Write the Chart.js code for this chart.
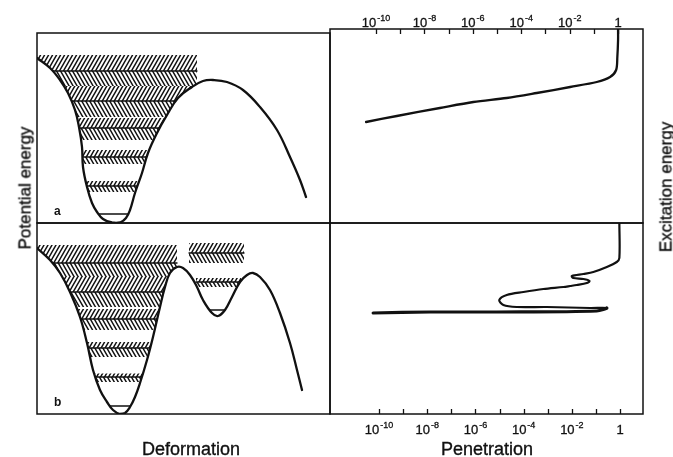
<!DOCTYPE html>
<html>
<head>
<meta charset="utf-8">
<script src="https://cdn.jsdelivr.net/npm/chart.js@4.4.1/dist/chart.umd.min.js"></script>
<style>
  html, body { margin: 0; padding: 0; background: #fff; }
  #wrap { position: relative; width: 673px; height: 457px; overflow: hidden;
          font-family: "Liberation Sans", Arial, sans-serif; color: #111; }
  #wrap canvas { position: absolute; left: 0; top: 0; }
  .lbl { position: absolute; font-size: 18px; line-height: 18px; white-space: nowrap;
         -webkit-text-stroke: 0.35px #111; }
  .hz { transform: translateX(-50%); }
  .vt { font-size: 17px; line-height: 17px; transform: translate(-50%, -50%) rotate(-90deg); }
</style>
</head>
<body>
<div id="wrap">
  <canvas id="pot-a" width="673" height="457"></canvas>
  <canvas id="pot-b" width="673" height="457"></canvas>
  <canvas id="pen-a" width="673" height="457"></canvas>
  <canvas id="pen-b" width="673" height="457"></canvas>
  <div class="lbl hz" style="left:191px; top:440px;">Deformation</div>
  <div class="lbl hz" style="left:487px; top:440px;">Penetration</div>
  <div class="lbl vt" style="left:25px; top:188px;">Potential energy</div>
  <div class="lbl vt" style="left:666px; top:187px;">Excitation energy</div>
</div>
<script>
// ── Fission barrier sketch: potential wells (left) and barrier penetration (right)
// Energies are in arbitrary units. Row a = single hump,
// row b = double hump with a second (shape-isomer) well.

const INK = '#111';
const FONT = '"Liberation Sans", Arial, sans-serif';

// penetration axis (log10 of penetration)
const TICK_EXPONENTS = [-10, -9, -8, -7, -6, -5, -4, -3, -2, -1, 0];
const LABEL_EXPONENTS = [-10, -8, -6, -4, -2, 0];

// panel a: potential energy vs deformation
const DEFORM_A = [0, 13, 23, 31, 38, 42, 45, 46, 50, 55, 60, 66, 75, 83, 89, 93, 98, 105,
  111, 120, 130, 141, 155, 166, 176, 190, 206, 223, 240, 253, 263, 269];
const POT_A = [165, 155, 143, 130, 113, 96, 76, 56, 36, 20, 11, 4, 0.5, 0.5, 5, 13, 30, 50,
  70, 90, 108, 125, 136, 142, 143, 141, 133, 116, 93, 66, 43, 26];
const LEVELS_A = [152, 122, 95, 66, 37, 9];
const BAND_TOP_A = [168, 137, 105, 73, 42, null];
const BAND_BOTTOM_A = [137, 106, 83, 59, 31, null];
const HATCH_RIGHT_A = 160;

// panel b: double-humped barrier
const DEFORM_B = [0, 13, 23, 33, 43, 50, 56, 63, 70, 76, 83, 88, 93, 98, 103, 110, 116, 123,
  128, 133, 140, 146, 153, 160, 166, 175, 181, 188, 195, 203, 210, 216, 223, 233, 243, 253, 260, 265];
const POT_B = [166, 154, 141, 122, 97, 71, 44, 24, 12, 4, 0, 1, 7, 17, 31, 54, 77, 107,
  127, 141, 147, 146, 139, 127, 114, 101, 98, 104, 117, 132, 139, 141, 137, 124, 101, 71, 44, 24];
const LEVELS_B = [151, 122, 95, 66, 37, 8];
const BAND_TOP_B = [169, 137, 105, 72, 40.5, null];
const BAND_BOTTOM_B = [137, 107, 84, 57, 32, null];
const HATCH_RIGHT_B = 140;
// second well states: [level, band top, band bottom, from, to]
const OUTER_LEVELS_B = [
  [161, 171, 151, 152, 207],
  [132, 136, 127, 159, 204],
  [104, null, null, 171, 188],
];

// penetration vs excitation energy
const PEN_EXP_A = [-10.41, -9.14, -7.36, -5.98, -4.6, -3.36, -1.98, -0.88, -0.33, -0.08, -0.03, 0, 0];
const EXC_A = [101, 107, 115, 121, 125, 130, 136, 141, 146, 153, 166, 183, 194];
const PEN_EXP_B = [-0.03, -0.03, -0.14, -0.55, -1.11, -1.52, -2.0, -1.94, -1.52, -1.27, -1.38,
  -1.8, -2.07, -2.35, -3.18, -4.01, -4.7, -5.01, -4.84, -4.29, -3.04, -1.24, -0.55, -0.97,
  -5.12, -7.88, -10.24];
const EXC_B = [191, 156, 152, 147, 142, 140, 138, 136, 135, 133, 131, 129, 128, 127, 125,
  122, 119, 114, 109, 107, 107, 106, 106, 103, 102, 102, 101];

function zip(xs, ys) {
  return xs.map((x, i) => ({ x, y: ys[i] }));
}

// Diagonal hatch pattern; dir > 0 gives "/", otherwise "\".
// Lines run past the tile edges so the repeats join without seams.
function hatch(dir) {
  const w = 4, h = 7;
  const c = document.createElement('canvas');
  c.width = w; c.height = h;
  const g = c.getContext('2d');
  g.strokeStyle = INK;
  g.lineWidth = 1.45;
  g.beginPath();
  [-w, 0, w].forEach((dx) => {
    if (dir > 0) { g.moveTo(dx - w, 2 * h); g.lineTo(dx + 2 * w, -h); }
    else { g.moveTo(dx - w, -h); g.lineTo(dx + 2 * w, 2 * h); }
  });
  g.stroke();
  return g.createPattern(c, 'repeat');
}
const HATCH_UP = hatch(1);
const HATCH_DOWN = hatch(-1);

function levelLine(x0, x1, e) {
  return { data: [{ x: x0, y: e }, { x: x1, y: e }], borderColor: INK, borderWidth: 1.4, fill: false };
}

function band(x0, x1, top, bottom, pattern) {
  return {
    data: [{ x: x0, y: top }, { x: x1, y: top }, { x: x1, y: bottom }, { x: x0, y: bottom }],
    borderColor: 'transparent', borderWidth: 1, backgroundColor: pattern, fill: 'shape',
  };
}

function potentialDatasets(def, pot, levels, tops, bottoms, right, outer) {
  const lines = [];
  const bands = [];
  levels.forEach((e, i) => {
    lines.push(levelLine(0, right, e));
    if (tops[i] == null) return;
    bands.push(band(0, right, tops[i], e, HATCH_UP));
    bands.push(band(0, right, e, bottoms[i], HATCH_DOWN));
  });
  (outer || []).forEach(([e, top, bottom, x0, x1]) => {
    lines.push(levelLine(x0, x1, e));
    if (top == null) return;
    bands.push(band(x0, x1, top, e, HATCH_UP));
    bands.push(band(x0, x1, e, bottom, HATCH_DOWN));
  });
  // the curve comes first so it (and its white underside) is drawn on top
  const curve = {
    data: zip(def, pot), borderColor: INK, borderWidth: 2.3, tension: 0.4,
    fill: 'start', backgroundColor: '#fff',
  };
  return [curve, ...lines, ...bands];
}

function drawPower(ctx, e, cx, base, supRise) {
  ctx.fillStyle = INK;
  ctx.strokeStyle = INK;
  ctx.lineWidth = 0.3;
  if (e === 0) {
    ctx.font = `13px ${FONT}`;
    ctx.textAlign = 'center';
    ctx.fillText('1', cx, base);
    ctx.strokeText('1', cx, base);
    return;
  }
  const sup = '-' + Math.abs(e);
  ctx.font = `13px ${FONT}`;
  const w1 = ctx.measureText('10').width;
  ctx.font = `9px ${FONT}`;
  const w2 = ctx.measureText(sup).width;
  const x = cx - (w1 + w2 + 1) / 2;
  ctx.textAlign = 'left';
  ctx.font = `13px ${FONT}`;
  ctx.fillText('10', x, base);
  ctx.strokeText('10', x, base);
  ctx.font = `9px ${FONT}`;
  ctx.fillText(sup, x + w1 + 1, base - supRise);
  ctx.strokeText(sup, x + w1 + 1, base - supRise);
}

// Frame, inward log ticks with 10^n labels, panel letter.
const panelDecor = {
  id: 'panelDecor',
  afterDatasetsDraw(chart, args, opts) {
    const { ctx, chartArea: a } = chart;
    ctx.save();
    ctx.strokeStyle = INK;
    ctx.lineWidth = 1.5;
    ctx.strokeRect(a.left, a.top, a.right - a.left, a.bottom - a.top);
    if (opts.axis) {
      const xs = chart.scales.x;
      const top = opts.axis === 'top';
      const edge = top ? a.top : a.bottom;
      ctx.lineWidth = 1.3;
      TICK_EXPONENTS.forEach((e) => {
        const px = Math.round(xs.getPixelForValue(10 ** e)) + 0.5;
        ctx.beginPath();
        ctx.moveTo(px, edge);
        ctx.lineTo(px, edge + (top ? 5 : -5));
        ctx.stroke();
      });
      LABEL_EXPONENTS.forEach((e) => {
        const px = xs.getPixelForValue(10 ** e);
        if (top) drawPower(ctx, e, px, a.top - 2.5, 6);
        else drawPower(ctx, e, px, a.bottom + 19.5, 5.5);
      });
    }
    if (opts.tag) {
      ctx.fillStyle = INK;
      ctx.font = `bold 12px ${FONT}`;
      ctx.textAlign = 'left';
      ctx.fillText(opts.tag, a.left + 17, a.bottom - 8);
    }
    ctx.restore();
  },
};

function makeChart(id, padding, scales, datasets, decor) {
  return new Chart(document.getElementById(id), {
    type: 'line',
    data: { datasets },
    options: {
      responsive: false,
      animation: false,
      events: [],
      layout: { padding },
      elements: { point: { radius: 0 }, line: { borderCapStyle: 'round', borderJoinStyle: 'round' } },
      plugins: { legend: { display: false }, tooltip: { enabled: false }, panelDecor: decor },
      scales,
    },
    plugins: [panelDecor],
  });
}

const linX = { type: 'linear', display: false, min: 0, max: 293 };

makeChart('pot-a', { left: 37, top: 33, right: 343, bottom: 234 },
  { x: linX, y: { type: 'linear', display: false, min: 0, max: 190 } },
  potentialDatasets(DEFORM_A, POT_A, LEVELS_A, BAND_TOP_A, BAND_BOTTOM_A, HATCH_RIGHT_A),
  { tag: 'a' });

makeChart('pot-b', { left: 37, top: 223, right: 343, bottom: 43 },
  { x: linX, y: { type: 'linear', display: false, min: 0, max: 191 } },
  potentialDatasets(DEFORM_B, POT_B, LEVELS_B, BAND_TOP_B, BAND_BOTTOM_B, HATCH_RIGHT_B, OUTER_LEVELS_B),
  { tag: 'b' });

makeChart('pen-a', { left: 330, top: 29, right: 30, bottom: 234 },
  {
    x: { type: 'logarithmic', display: false, min: 10 ** -11.9, max: 10 ** 1.03 },
    y: { type: 'linear', display: false, min: 0, max: 194 },
  },
  [{
    data: zip(PEN_EXP_A.map((e) => 10 ** e), EXC_A),
    borderColor: INK, borderWidth: 2.3, tension: 0.3, fill: false,
  }],
  { axis: 'top' });

makeChart('pen-b', { left: 330, top: 223, right: 30, bottom: 43 },
  {
    x: { type: 'logarithmic', display: false, min: 10 ** -12.03, max: 10 ** 0.95 },
    y: { type: 'linear', display: false, min: 0, max: 191 },
  },
  [{
    data: zip(PEN_EXP_B.map((e) => 10 ** e), EXC_B),
    borderColor: INK, borderWidth: 2.2, tension: 0.3, fill: false,
    segment: { borderWidth: (c) => (c.p0DataIndex >= 22 ? 3.2 : 2.2) },
  }],
  { axis: 'bottom' });
</script>
</body>
</html>
